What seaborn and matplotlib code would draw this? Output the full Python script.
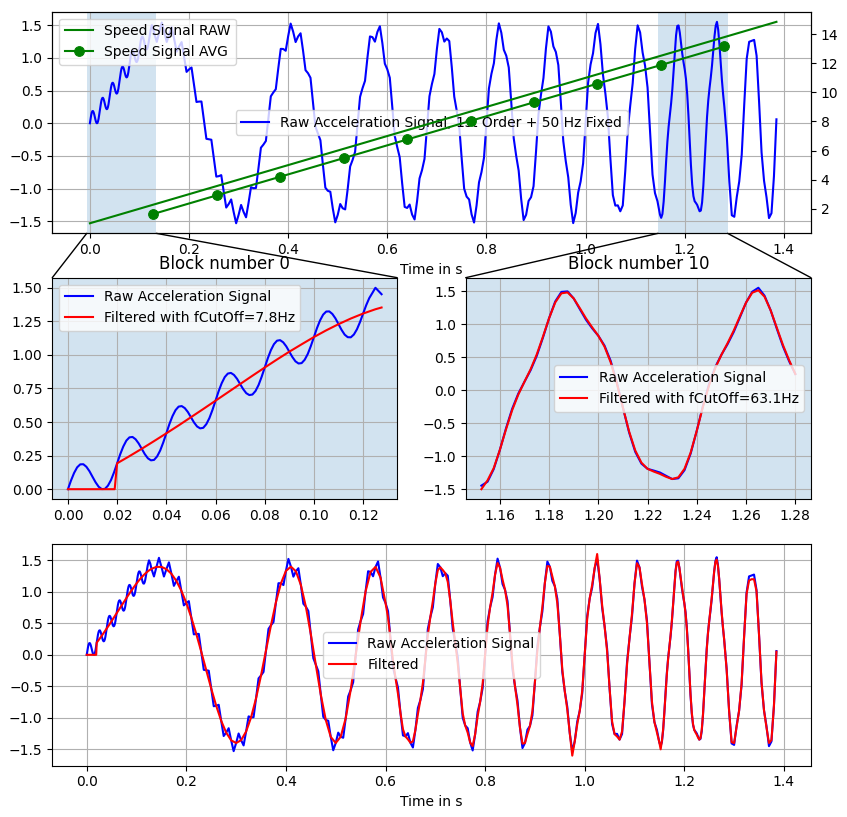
import numpy as np
import matplotlib
matplotlib.use("Agg")
import matplotlib.pyplot as plt
from matplotlib.patches import ConnectionPatch
import seaborn as sns

# Raw acceleration signal, read off the chart, in four sampled stretches
# stretch A: 0.0 .. 0.1275 s every 1.25 ms
raw_a = [0.000, 0.065, 0.121, 0.163, 0.185, 0.186, 0.167, 0.134, 0.092, 0.051,
         0.018, 0.001, 0.002, 0.026, 0.068, 0.126, 0.193, 0.260, 0.318, 0.362,
         0.386, 0.389, 0.372, 0.341, 0.301, 0.261, 0.230, 0.215, 0.218, 0.244,
         0.288, 0.348, 0.416, 0.485, 0.544, 0.589, 0.615, 0.619, 0.604, 0.575,
         0.536, 0.497, 0.467, 0.453, 0.457, 0.484, 0.529, 0.590, 0.659, 0.729,
         0.789, 0.835, 0.861, 0.866, 0.851, 0.822, 0.783, 0.745, 0.715, 0.701,
         0.705, 0.731, 0.776, 0.837, 0.906, 0.975, 1.035, 1.080, 1.106, 1.110,
         1.094, 1.064, 1.024, 0.984, 0.952, 0.936, 0.939, 0.964, 1.007, 1.066,
         1.133, 1.200, 1.257, 1.300, 1.323, 1.324, 1.305, 1.272, 1.229, 1.186,
         1.151, 1.132, 1.131, 1.152, 1.191, 1.245, 1.308, 1.370, 1.423, 1.461,
         1.500, 1.476, 1.452]
# stretch B: 0.13 .. 1.15 s every 5 ms
raw_b = [1.365, 1.244, 1.396, 1.540, 1.396, 1.243, 1.360, 1.468, 1.287, 1.095,
         1.173, 1.240, 1.017, 0.785, 0.823, 0.852, 0.592, 0.325, 0.331, 0.332,
         0.048, -0.238, -0.245, -0.252, -0.536, -0.816, -0.809, -0.793, -1.047, -1.289,
         -1.235, -1.165, -1.357, -1.529, -1.400, -1.249, -1.355, -1.438, -1.218, -0.977,
         -0.993, -0.990, -0.690, -0.374, -0.327, -0.271, 0.070, 0.412, 0.470, 0.520,
         0.837, 1.137, 1.135, 1.108, 1.332, 1.523, 1.400, 1.241, 1.326, 1.375,
         1.109, 0.811, 0.765, 0.695, 0.327, -0.053, -0.158, -0.260, -0.632, -0.985,
         -1.033, -1.047, -1.303, -1.515, -1.400, -1.235, -1.300, -1.317, -1.008, -0.661,
         -0.560, -0.436, -0.018, 0.403, 0.536, 0.648, 1.009, 1.327, 1.316, 1.247,
         1.396, 1.482, 1.225, 0.910, 0.823, 0.695, 0.258, -0.194, -0.365, -0.520,
         -0.923, -1.279, -1.295, -1.243, -1.396, -1.471, -1.192, -0.843, -0.717, -0.546,
         -0.070, 0.412, 0.600, 0.753, 1.133, 1.442, 1.390, 1.248, 1.295, 1.256,
         0.861, 0.407, 0.193, -0.037, -0.536, -0.999, -1.122, -1.165, -1.393, -1.518,
         -1.259, -0.903, -0.746, -0.529, 0.000, 0.532, 0.754, 0.917, 1.274, 1.527,
         1.383, 1.123, 1.032, 0.852, 0.327, -0.229, -0.499, -0.726, -1.156, -1.480,
         -1.400, -1.188, -1.130, -0.962, -0.433, 0.141, 0.437, 0.691, 1.143, 1.480,
         1.399, 1.174, 1.089, 0.889, 0.327, -0.273, -0.580, -0.826, -1.245, -1.527,
         -1.372, -1.060, -0.889, -0.613, 0.000, 0.615, 0.896, 1.070, 1.378, 1.518,
         1.207, 0.745, 0.449, 0.095, -0.536, -1.099, -1.259, -1.255, -1.346, -1.257,
         -0.735, -0.113, 0.267, 0.611, 1.133, 1.496, 1.388, 1.082, 0.879, 0.546,
         -0.127, -0.784, -1.068, -1.192, -1.396]
# stretch C: 1.1525 .. 1.2775 s every 2.5 ms
raw_c = [-1.446, -1.387, -1.197, -0.906, -0.579, -0.283, -0.052, 0.127, 0.302, 0.520,
         0.794, 1.089, 1.343, 1.487, 1.495, 1.388, 1.225, 1.065, 0.936, 0.823,
         0.675, 0.444, 0.119, -0.267, -0.641, -0.935, -1.113, -1.192, -1.218, -1.247,
         -1.297, -1.346, -1.335, -1.212, -0.960, -0.612, -0.236, 0.097, 0.351, 0.536,
         0.697, 0.881, 1.102, 1.326, 1.490, 1.550, 1.430, 1.207, 0.929, 0.661,
         0.437]
# stretch D: 1.28 .. 1.385 s every 5 ms
raw_d = [0.245, -0.218, -0.896, -1.407, -1.430, -1.126, -0.889, -0.479, 0.280, 0.985,
         1.245, 1.260, 1.274, 1.031, 0.327, -0.446, -0.879, -1.131, -1.450, -1.375,
         -0.809, 0.060]

# Filtered signal (block-wise low pass)
filt_0_t = [0.0, 0.019, 0.02, 0.025, 0.03, 0.035, 0.04, 0.045, 0.05, 0.055, 0.06,
            0.065, 0.07, 0.075, 0.08, 0.085, 0.09, 0.095, 0.1, 0.105, 0.11,
            0.115, 0.12, 0.125, 0.1275]
filt_0 = [0.0, 0.0, 0.193, 0.246, 0.301, 0.358, 0.416, 0.475, 0.536, 0.597, 0.659,
          0.721, 0.783, 0.845, 0.906, 0.966, 1.024, 1.079, 1.133, 1.183, 1.229,
          1.271, 1.308, 1.340, 1.353]
# 0.13 .. 0.60 s every 10 ms
filt_1 = [1.365, 1.396, 1.396, 1.360, 1.287, 1.173, 1.017, 0.823, 0.592, 0.331,
          0.048, -0.245, -0.536, -0.809, -1.047, -1.235, -1.357, -1.400, -1.355, -1.218,
          -0.993, -0.690, -0.327, 0.070, 0.470, 0.837, 1.135, 1.332, 1.400, 1.326,
          1.109, 0.765, 0.327, -0.158, -0.632, -1.033, -1.303, -1.400, -1.300, -1.008,
          -0.560, -0.018, 0.536, 1.009, 1.316, 1.396, 1.225, 0.823]
# 0.605 .. 1.15 s every 5 ms
filt_2 = [0.597, 0.258, -0.096, -0.365, -0.618, -0.923, -1.181, -1.295, -1.341, -1.396,
          -1.373, -1.192, -0.941, -0.717, -0.448, -0.070, 0.314, 0.600, 0.851, 1.133,
          1.344, 1.390, 1.346, 1.295, 1.158, 0.861, 0.505, 0.193, -0.135, -0.536,
          -0.929, -1.122, -1.235, -1.393, -1.448, -1.259, -0.973, -0.746, -0.459, 0.000,
          0.462, 0.754, 0.987, 1.274, 1.457, 1.383, 1.193, 1.032, 0.782, 0.327,
          -0.159, -0.499, -0.796, -1.156, -1.410, -1.400, -1.258, -1.130, -0.892, -0.433,
          0.071, 0.437, 0.761, 1.143, 1.410, 1.399, 1.244, 1.089, 0.819, 0.327,
          -0.231, -0.580, -0.868, -1.245, -1.600, -1.372, -1.102, -0.889, -0.571, 0.000,
          0.573, 0.896, 1.112, 1.378, 1.600, 1.207, 0.787, 0.449, 0.053, -0.536,
          -1.057, -1.259, -1.297, -1.346, -1.215, -0.735, -0.155, 0.267, 0.653, 1.133,
          1.454, 1.388, 1.124, 0.879, 0.504, -0.127, -0.742, -1.068, -1.234, -1.396]
# 1.1525 .. 1.2775 s every 2.5 ms
filt_3 = [-1.500, -1.366, -1.182, -0.906, -0.594, -0.304, -0.067, 0.127, 0.317, 0.541,
          0.809, 1.089, 1.328, 1.466, 1.480, 1.388, 1.240, 1.086, 0.951, 0.823,
          0.660, 0.423, 0.104, -0.267, -0.626, -0.914, -1.098, -1.192, -1.233, -1.268,
          -1.312, -1.346, -1.320, -1.191, -0.945, -0.612, -0.251, 0.076, 0.336, 0.536,
          0.712, 0.902, 1.117, 1.326, 1.475, 1.512, 1.415, 1.207, 0.944, 0.682,
          0.452]
# 1.28 .. 1.385 s every 5 ms
filt_4 = [0.245, -0.239, -0.896, -1.386, -1.400, -1.147, -0.889, -0.458, 0.280, 0.964,
          1.180, 1.200, 1.200, 1.010, 0.327, -0.425, -0.879, -1.152, -1.399, -1.354,
          -0.809, 0.050]

# Speed signals (right axis)
speed_raw_t = [0.0, 1.385]
speed_raw = [1.0, 14.85]
speed_avg_t = [0.128, 0.256, 0.384, 0.512, 0.640, 0.768, 0.896, 1.024, 1.152, 1.280]
speed_avg = [1.64, 2.92, 4.20, 5.48, 6.76, 8.04, 9.32, 10.60, 11.88, 13.16]

block_windows = {0: (0.0, 0.1275), 10: (1.152, 1.28)}
cutoffs = {0: "7.8", 10: "63.1"}


def sampled(t0, step, vals):
    return t0 + step * np.arange(len(vals))


raw_t = np.concatenate([sampled(0.0, 0.00125, raw_a), sampled(0.13, 0.005, raw_b),
                        sampled(1.1525, 0.0025, raw_c), sampled(1.28, 0.005, raw_d)])
raw_y = np.array(raw_a + raw_b + raw_c + raw_d)
filt_t = np.concatenate([np.array(filt_0_t), sampled(0.13, 0.01, filt_1),
                         sampled(0.605, 0.005, filt_2), sampled(1.1525, 0.0025, filt_3),
                         sampled(1.28, 0.005, filt_4)])
filt_y = np.array(filt_0 + filt_1 + filt_2 + filt_3 + filt_4)

span_rgb = (31 / 255, 119 / 255, 180 / 255)

fig = plt.figure(figsize=(8.47, 8.17), dpi=100)
ax_top = fig.add_axes([0.0617, 0.7144, 0.8957, 0.2712])
ax_b0 = fig.add_axes([0.0617, 0.3889, 0.4073, 0.2712])
ax_b10 = fig.add_axes([0.5498, 0.3889, 0.4077, 0.2712])
ax_bot = fig.add_axes([0.0617, 0.0628, 0.8957, 0.2714])

# top: raw signal + speed on twin axis
sns.lineplot(x=raw_t, y=raw_y, ax=ax_top, color='b', estimator=None,
             label='Raw Acceleration Signal, 1st Order + 50 Hz Fixed')
ax_top.legend(loc='center')
ax_top.grid(True)
ax_top.set_xlabel('Time in s')
ax_top.set_ylabel('')
ax_top.set_xticks(np.arange(0.0, 1.41, 0.2))
ax_top.set_yticks(np.arange(-1.5, 1.51, 0.5))

tw = ax_top.twinx()
sns.lineplot(x=speed_raw_t, y=speed_raw, ax=tw, color='g', estimator=None,
             label='Speed Signal RAW')
sns.lineplot(x=speed_avg_t, y=speed_avg, ax=tw, color='g', estimator=None,
             marker='o', markersize=7, markeredgecolor='g', label='Speed Signal AVG')
tw.legend(loc='upper left')
tw.grid(False)
tw.set_ylabel('')
tw.set_yticks(np.arange(2, 15, 2))

# zoomed blocks
for num, bax in ((0, ax_b0), (10, ax_b10)):
    lo, hi = block_windows[num]
    m = (raw_t >= lo - 1e-9) & (raw_t <= hi + 1e-9)
    mf = (filt_t >= lo - 1e-9) & (filt_t <= hi + 1e-9)
    bax.set_facecolor(span_rgb + (0.2,))
    sns.lineplot(x=raw_t[m], y=raw_y[m], ax=bax, color='b', estimator=None,
                 label='Raw Acceleration Signal')
    sns.lineplot(x=filt_t[mf], y=filt_y[mf], ax=bax, color='r', estimator=None,
                 label='Filtered with fCutOff=%sHz' % cutoffs[num])
    bax.grid(True)
    bax.set_title('Block number %d' % num)
    bax.set_xlabel('')
    bax.set_ylabel('')

ax_b0.legend(loc='upper left')
ax_b0.set_yticks(np.arange(0.0, 1.51, 0.25))
ax_b10.legend(loc='center right')

# shade the block windows on the top axes and connect them
for bax in (ax_b0, ax_b10):
    x0, x1 = bax.get_xlim()
    ax_top.axvspan(x0, x1, color=span_rgb, alpha=0.2, lw=0)
    for xa, xb in ((x0, 0), (x1, 1)):
        con = ConnectionPatch(xyA=(xa, 0), coordsA=ax_top.get_xaxis_transform(),
                              xyB=(xb, 1), coordsB=bax.transAxes,
                              color='k', lw=1)
        fig.add_artist(con)

# bottom: whole signal raw vs filtered
sns.lineplot(x=raw_t, y=raw_y, ax=ax_bot, color='b', estimator=None,
             label='Raw Acceleration Signal')
sns.lineplot(x=filt_t, y=filt_y, ax=ax_bot, color='r', estimator=None,
             label='Filtered')
ax_bot.legend(loc='center')
ax_bot.grid(True)
ax_bot.set_xlabel('Time in s')
ax_bot.set_ylabel('')
ax_bot.set_xticks(np.arange(0.0, 1.41, 0.2))
ax_bot.set_yticks(np.arange(-1.5, 1.51, 0.5))

fig.savefig('out.png', dpi=100)
